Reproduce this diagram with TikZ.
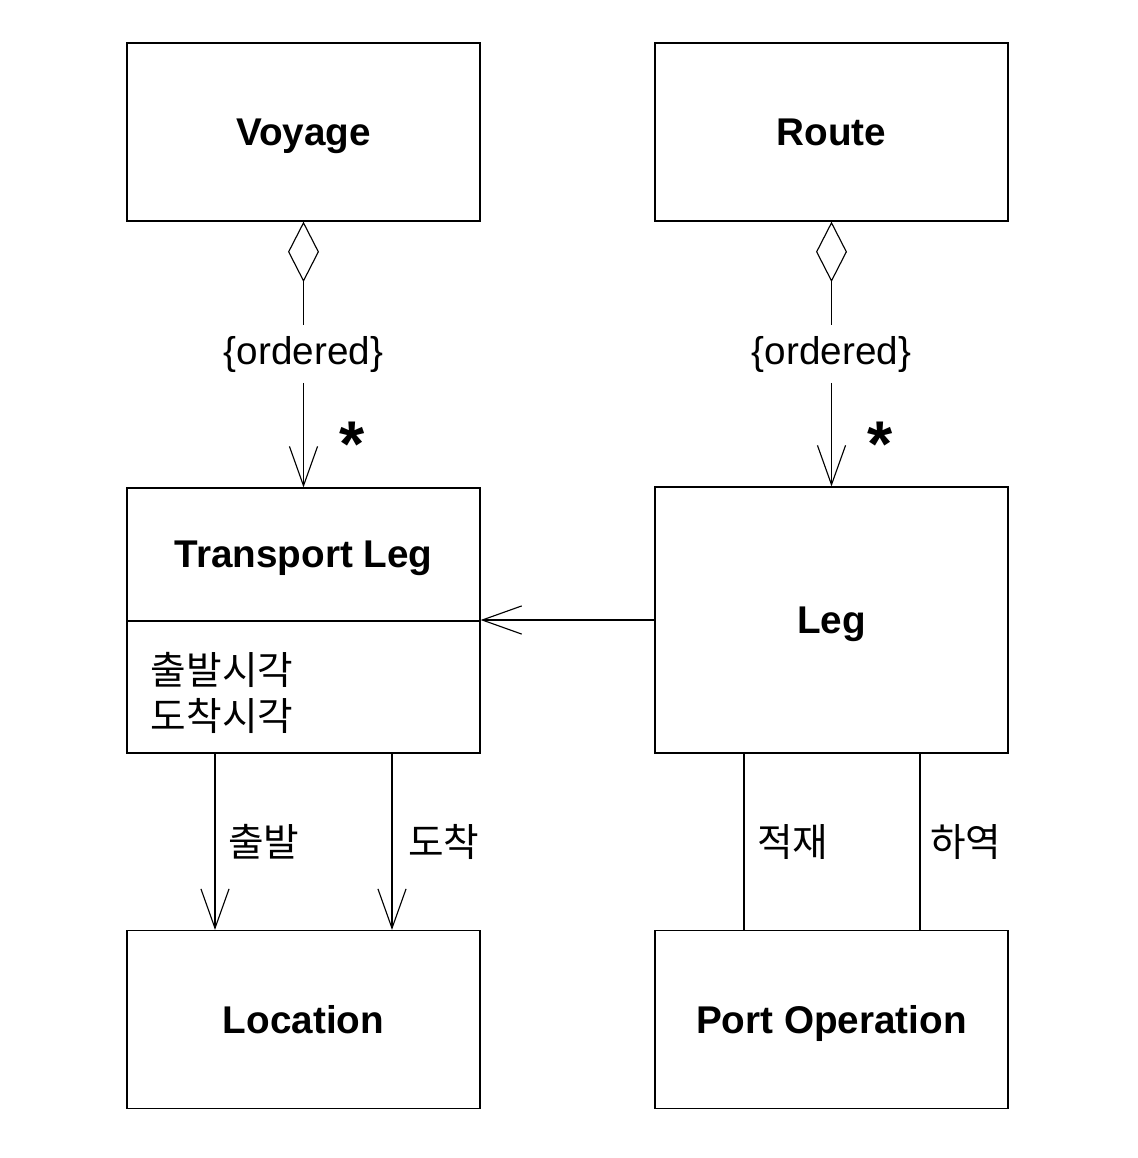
\documentclass[tikz,border=0pt]{standalone}
\usepackage{fontspec}
\setmainfont{Liberation Sans}
\newfontfamily\kr{Noto Sans CJK KR}
\usetikzlibrary{arrows.meta}

\tikzset{
  classbox/.style={draw, line width=0.8pt, minimum width=8.825cm,
    minimum height=4.45cm, inner sep=0pt, text depth=0pt,
    font=\fontsize{27.5}{33}\selectfont\bfseries},
  classname/.style={font=\fontsize{27.5}{33}\selectfont\bfseries, text depth=0pt},
  assoc/.style={line width=0.8pt},
  navig/.style={assoc, -{Straight Barb[length=28pt, width=20pt]}},
  aggr/.style={assoc, arrows={Diamond[open, length=43pt, width=22pt]-}},
  ordlabel/.style={font=\fontsize{27.5}{33}\selectfont, inner sep=7.5pt},
  krlabel/.style={font=\kr\fontsize{27.5}{32}\selectfont},
  mult/.style={font=\fontsize{46}{46}\selectfont\bfseries},
}

\begin{document}
\begin{tikzpicture}[x=0.025cm, y=-0.025cm]
  \useasboundingbox (0,0) rectangle (1138,1158);

  % Classes
  \node[classbox] (voyage) at (303.5,132) {Voyage};
  \node[classbox] (route) at (831.5,132) {Route};
  \node[classbox, minimum height=6.625cm] (tleg) at (303.5,620.5) {};
  \node[classbox, minimum height=6.65cm] (leg) at (831.5,620) {Leg};
  \node[classbox] (location) at (303.5,1019.5) {Location};
  \node[classbox] (portop) at (831.5,1019.5) {Port Operation};

  % Transport Leg compartments
  \coordinate (split) at (303.5,621);
  \draw[line width=0.8pt] (tleg.west |- split) -- (tleg.east |- split);
  \node[classname] (tlegname) at (303.5,554) {Transport Leg};
  \node[krlabel, anchor=west] (dept) at (146,670) {출발시각};
  \node[krlabel, anchor=west] (arrt) at (146,716) {도착시각};

  % Aggregations with {ordered}
  \node[ordlabel] (vorder) at (303.5,354) {\{ordered\}};
  \node[ordlabel] (rorder) at (831.5,354) {\{ordered\}};
  \draw[aggr] (voyage.south) -- (vorder.north);
  \draw[navig] (vorder.south) -- (tleg.north);
  \draw[aggr] (route.south) -- (rorder.north);
  \draw[navig] (rorder.south) -- (leg.north);
  \node[mult] (vmult) at (352,444) {*};
  \node[mult] (rmult) at (880,444) {*};

  % Leg to Transport Leg
  \draw[navig] (leg.west) -- (leg.west -| tleg.east);

  % Departure / arrival
  \coordinate (dep) at (215,0);
  \coordinate (arr) at (392,0);
  \draw[navig] (tleg.south -| dep) -- (location.north -| dep)
    node[krlabel, midway, right, inner sep=9pt] (deplabel) {출발};
  \draw[navig] (tleg.south -| arr) -- (location.north -| arr)
    node[krlabel, midway, right, inner sep=11pt] (arrlabel) {도착};

  % Loading / unloading
  \coordinate (load) at (744,0);
  \coordinate (unload) at (920,0);
  \draw[assoc] (leg.south -| load) -- (portop.north -| load)
    node[krlabel, midway, right, inner sep=9pt] (loadlabel) {적재};
  \draw[assoc] (leg.south -| unload) -- (portop.north -| unload)
    node[krlabel, midway, right, inner sep=7pt] (unloadlabel) {하역};
\end{tikzpicture}
\end{document}
